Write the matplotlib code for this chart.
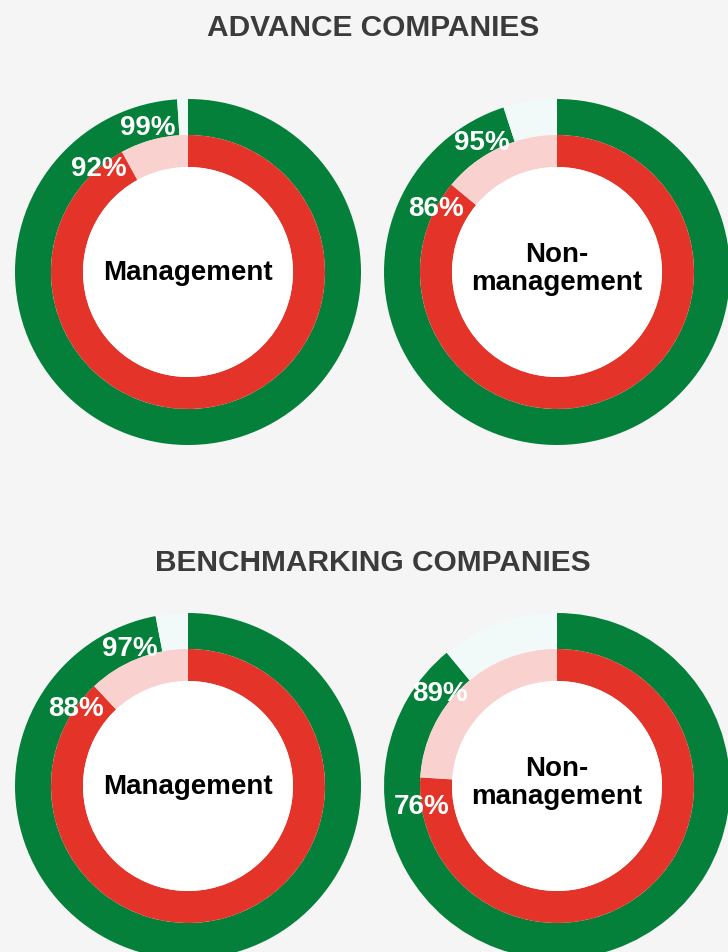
import matplotlib.pyplot as plt

# Data
groups = ['ADVANCE COMPANIES', 'BENCHMARKING COMPANIES']
roles = ['Management', 'Non-\nmanagement']
outer_values = [[99, 95], [97, 89]]   # green ring
inner_values = [[92, 86], [88, 76]]   # red ring

GREEN = '#04803a'
RED = '#e4342a'
PINK = '#f9d1cf'
PALE = '#f2f9f9'
BG = '#f5f5f5'
TITLE = '#3b3b3b'

plt.rcParams['font.family'] = ['Liberation Sans', 'DejaVu Sans']

W, H = 728, 953
fig = plt.figure(figsize=(W / 100, H / 100), dpi=100, facecolor=BG)
ax = fig.add_axes([0, 0, 1, 1])
ax.set_xlim(0, W)
ax.set_ylim(0, H)
ax.set_aspect('equal')
ax.axis('off')

# layout in pixels (y from top)
col_x = [188, 557]
row_y = [273, 787]
title_y = [28, 563]
r_out, w_out = 173, 36
r_in, w_in = 137, 32
r_hole = 105


def label_pos(cx, cy, value, radius, offset=3.3):
    import math
    ang = math.radians(90 - 360 * (value - offset) / 100)
    return cx + radius * math.cos(ang), cy + radius * math.sin(ang)


for gi, group in enumerate(groups):
    ax.text(373, H - title_y[gi], group, ha='center', va='center',
            fontsize=21.5, fontweight='bold', color=TITLE)
    for ri, role in enumerate(roles):
        cx = col_x[ri]
        cy = H - row_y[gi]
        ov = outer_values[gi][ri]
        iv = inner_values[gi][ri]
        ax.pie([ov, 100 - ov], colors=[GREEN, PALE], startangle=90,
               counterclock=False, center=(cx, cy), radius=r_out,
               wedgeprops=dict(width=w_out, linewidth=0), frame=True)
        ax.pie([iv, 100 - iv], colors=[RED, PINK], startangle=90,
               counterclock=False, center=(cx, cy), radius=r_in,
               wedgeprops=dict(width=w_in, linewidth=0), frame=True)
        ax.add_patch(plt.Circle((cx, cy), r_hole, color='white', lw=0))

        lx, ly = label_pos(cx, cy, ov, 150)
        ax.text(lx, ly, f'{ov}%', ha='center', va='center', fontsize=20,
                fontweight='bold', color='white')
        lx, ly = label_pos(cx, cy, iv, 137)
        ax.text(lx, ly, f'{iv}%', ha='center', va='center', fontsize=20,
                fontweight='bold', color='white')

        ax.text(cx, cy + (4 if '\n' in role else 0), role, ha='center',
                va='center', fontsize=20, fontweight='bold', color='black',
                linespacing=1.1)

ax.set_xlim(0, W)
ax.set_ylim(0, H)
ax.axis('off')

fig.savefig('out.png', dpi=100, facecolor=BG)
